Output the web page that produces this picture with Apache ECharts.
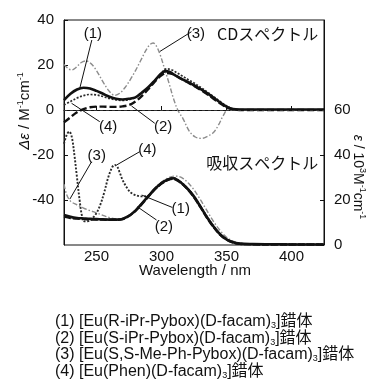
<!DOCTYPE html>
<html>
<head>
<meta charset="utf-8">
<script src="https://cdn.jsdelivr.net/npm/echarts@6/dist/echarts.min.js"></script>
<style>
  html, body { margin: 0; padding: 0; background: #fff; }
  #c { width: 366px; height: 389px; }
</style>
</head>
<body>
<div id="c"></div>
<script>
// ---- CD spectra (left axis, Δε / M-1cm-1) ----
const cdWl1 = [225,230,235,240,245,250,255,260,265,270,275,280,285,290,295,300,303,306,310,314,320,325,330,335,340,345,350,355,360,380,400,425];
const cd1   = [4.4,7.2,9.1,9.9,9.6,8.5,7.2,5.9,5.0,4.7,5.0,5.6,7.8,10.2,13.2,16.3,17.3,17.0,15.6,14.2,12.6,11.0,9.3,7.5,5.5,3.4,1.5,0.4,0.2,0.2,0.2,0.2];

const cdWl2 = [225,230,235,240,245,250,255,260,265,270,275,280,285,290,295,300,304,308,312,316,320,325,330,335,340,345,350,355,360,425];
const cd2   = [-5.5,-3.2,-1.0,0.4,1.2,1.5,1.5,1.4,1.4,1.6,2.2,3.8,6.3,9.4,12.7,15.4,16.4,16.1,15.0,13.6,12.3,10.7,9.0,7.1,5.0,3.0,1.2,0.3,0.0,0.0];

const cdWl3 = [225,228,231,234,238,242,246,250,255,260,264,268,272,276,280,284,288,291,293.5,296,299,302,306,309,312.5,316.5,321.5,326,331,335,340,344,347.5,351,360,425];
const cd3   = [20.3,18.5,17.8,18.8,21.0,21.8,20.5,17.5,12.5,8.2,6.5,7.5,10.0,13.5,17.5,22.0,26.5,29.0,29.8,28.5,24.5,19.0,11.5,5.5,0.0,-3.8,-9.5,-12.0,-12.6,-11.8,-10.0,-6.5,-2.5,0.0,0.0,0.0];

const cdWl4 = [225,230,235,240,245,250,255,260,265,270,275,280,285,290,295,300,304,308,312,316,320,325,330,335,340,345,350,355,360,425];
const cd4   = [2.2,3.8,5.3,6.4,6.9,6.7,6.0,5.1,4.5,4.3,4.6,5.6,7.4,10.0,13.2,16.4,18.3,17.8,16.5,15.1,13.7,12.0,10.1,8.1,6.0,3.8,1.8,0.5,0.1,0.1];

// ---- Absorption spectra (right axis, ε / 10^3 M-1cm-1) ----
const abWl1 = [225,230,235,240,245,250,255,260,265,270,275,280,285,290,295,300,305,309,314,320,325,330,335,340,345,350,355,360,370,390,410,425];
const ab1   = [13.3,12.5,12.0,11.8,11.6,11.5,11.4,11.3,11.3,11.6,13.0,15.3,18.5,21.8,25.0,27.5,29.1,29.7,28.2,25.0,21.5,17.0,12.3,8.2,4.8,2.5,1.2,0.6,0.4,0.3,0.2,0.2];

const abWl2 = [225,230,235,240,245,250,255,260,265,270,275,280,285,290,295,300,305,309,314,320,325,330,335,340,345,350,355,360,370,390,410,425];
const ab2   = [12.6,12.0,11.7,11.5,11.4,11.3,11.3,11.2,11.2,11.5,12.9,15.2,18.3,21.6,24.8,27.3,28.9,29.4,28.0,24.9,21.3,16.8,12.1,8.0,4.6,2.4,1.1,0.5,0.3,0.2,0.2,0.2];

const abWl3 = [225,227,230,235,240,245,250,255,260,265,270,275,280,285,290,295,300,305,310,313,317,321,325,329,333,337,341,345,349,353,357,362,370,400,425];
const ab3   = [27.0,22.5,19.5,17.8,16.4,15.3,14.3,13.2,12.2,11.6,11.9,13.3,15.6,18.7,22.0,25.3,28.0,29.8,30.6,30.5,29.4,27.3,24.5,21.0,17.2,13.3,9.6,6.5,4.0,2.3,1.2,0.6,0.4,0.3,0.3];

const abWl4 = [225,227,229,231,233,235,237,239,241,244,247,250,253,256,259,262,264,266,268,270,273,276,280,285,290,295,300,305,309,314,320,325,330,335,340,345,350,355,360,370,390,410,425];
const ab4   = [45.0,48.8,50.4,48.0,40.0,30.0,20.0,12.5,10.5,10.6,12.0,14.2,18.0,23.5,30.0,34.5,35.6,34.8,32.0,29.0,25.8,23.5,22.2,21.6,22.0,25.0,27.5,29.2,29.8,28.4,25.2,21.7,17.2,12.5,8.4,5.0,2.6,1.3,0.7,0.4,0.3,0.3,0.3];

// ---- axis ticks ----
const xTicks = [250, 300, 350, 400];
const cdTicks = [-40, -20, 0, 20, 40];
const absTicks = [0, 20, 40, 60];

// ---- annotations: text, text anchor, leader line start/end (nm, Δε) ----
const noteText     = ['(1)', '(3)', '(4)', '(2)', '(4)', '(3)', '(1)', '(2)'];
const noteTextAt   = [[247.2,33.8],[326.4,33.8],[258.9,-7.4],[301.2,-7.4],[289.1,-17.8],[250.2,-20.4],[314.8,-44.0],[301.8,-51.9]];
const noteLineFrom = [[246.4,31.1],[323.1,34.8],[252.5,-5.2],[294.8,-5.9],[283.3,-18.5],[246.2,-23.0],[308.3,-43.3],[296.2,-48.9]];
const noteLineTo   = [[237.2,9.8],[298.7,26.0],[230.8,3.0],[276.9,1.8],[265.6,-24.4],[229.5,-39.6],[284.8,-37.8],[281.4,-43.0]];

const panelTitles  = ['CDスペクトル', '吸収スペクトル'];
const panelTitleAt = [[420.5, 33.8], [420.5, -23.6]];

const legendLines = [
  '(1) [Eu(R-iPr-Pybox)(D-facam){s|3}]錯体',
  '(2) [Eu(S-iPr-Pybox)(D-facam){s|3}]錯体',
  '(3) [Eu(S,S-Me-Ph-Pybox)(D-facam){s|3}]錯体',
  '(4) [Eu(Phen)(D-facam){s|3}]錯体'
];

const pairs = (xs, ys) => xs.map((x, i) => [x, ys[i]]);

const FONT = '"Liberation Sans", Arial, "Noto Sans CJK JP", sans-serif';
const INK = '#111';
const GREY = '#8c8c8c';

const chart = echarts.init(document.getElementById('c'), null, { renderer: 'canvas' });

function line(name, data, yIdx, color, width, type, z) {
  return {
    name, type: 'line', data, yAxisIndex: yIdx, smooth: 0.35,
    showSymbol: false, symbol: 'none', silent: true, z: z || 2,
    lineStyle: { color, width, type, cap: 'butt', join: 'round' }
  };
}

chart.setOption({
  animation: false,
  backgroundColor: '#fff',
  grid: { left: 64, right: 42, top: 20, bottom: 144, show: true, borderColor: INK, borderWidth: 1, backgroundColor: 'transparent' },
  xAxis: {
    type: 'value', min: 225, max: 425,
    axisLine: { show: true, lineStyle: { color: INK, width: 1 } },
    axisTick: { show: true, inside: true, length: 4, lineStyle: { color: INK }, customValues: xTicks },
    axisLabel: { customValues: xTicks, color: INK, fontSize: 15, fontFamily: FONT, margin: 4 },
    splitLine: { show: false }
  },
  yAxis: [
    {
      type: 'value', min: -60, max: 40, position: 'left',
      axisLine: { show: true, lineStyle: { color: INK, width: 1 } },
      axisTick: { show: true, inside: true, length: 4, lineStyle: { color: INK }, customValues: cdTicks },
      axisLabel: { customValues: cdTicks, color: INK, fontSize: 15, fontFamily: FONT, margin: 10 },
      splitLine: { show: false }
    },
    {
      type: 'value', min: 0, max: 100, position: 'right',
      axisLine: { show: true, lineStyle: { color: INK, width: 1 } },
      axisTick: { show: true, inside: true, length: 4, lineStyle: { color: INK }, customValues: absTicks },
      axisLabel: { customValues: absTicks, color: INK, fontSize: 15, fontFamily: FONT, margin: 10 },
      splitLine: { show: false }
    }
  ],
  series: [
    Object.assign(line('cd3', pairs(cdWl3, cd3), 0, GREY, 1.4, [5, 2, 1.5, 2], 1), {
      markLine: {
        silent: true, symbol: 'none', label: { show: false }, animation: false,
        lineStyle: { color: '#333', width: 1, type: [3, 3] },
        data: [{ yAxis: 0 }]
      }
    }),
    line('ab3', pairs(abWl3, ab3), 1, GREY, 1.4, [5, 2, 1.5, 2], 1),
    line('cd2', pairs(cdWl2, cd2), 0, INK, 2.4, [7, 3], 2),
    line('cd4', pairs(cdWl4, cd4), 0, '#2a2a2a', 1.7, [2, 1.6], 2),
    line('cd1', pairs(cdWl1, cd1), 0, INK, 2.6, 'solid', 3),
    line('ab4', pairs(abWl4, ab4), 1, '#2a2a2a', 1.9, [2, 1.6], 2),
    line('ab2', pairs(abWl2, ab2), 1, INK, 2.4, [7, 2], 2),
    line('ab1', pairs(abWl1, ab1), 1, INK, 2.6, 'solid', 3)
  ]
});

// Annotations, axis names and the compound list, placed from data coordinates
const toPx = (p) => chart.convertToPixel({ xAxisIndex: 0, yAxisIndex: 0 }, p);
const g = [];

noteText.forEach((t, i) => {
  const a = toPx(noteTextAt[i]);
  const p1 = toPx(noteLineFrom[i]);
  const p2 = toPx(noteLineTo[i]);
  g.push({ type: 'line', silent: true, z: 10, shape: { x1: p1[0], y1: p1[1], x2: p2[0], y2: p2[1] }, style: { stroke: INK, lineWidth: 1 } });
  g.push({ type: 'text', silent: true, z: 11, x: a[0], y: a[1], style: { text: t, fill: INK, font: '15px ' + FONT, align: 'center', verticalAlign: 'middle' } });
});

panelTitles.forEach((t, i) => {
  const a = toPx(panelTitleAt[i]);
  g.push({ type: 'text', silent: true, z: 11, x: a[0], y: a[1], style: { text: t, fill: INK, font: '16px "Noto Sans CJK JP", ' + FONT, align: 'right', verticalAlign: 'middle' } });
});

const supStyle = { fontSize: 9, fontFamily: FONT, fill: INK, verticalAlign: 'top', lineHeight: 10 };
g.push({
  type: 'text', silent: true, z: 11, x: 25, y: 111, rotation: Math.PI / 2,
  style: {
    text: '{i|Δε} / M{s|-1}cm{s|-1}', align: 'center', verticalAlign: 'middle',
    fill: INK, font: '15px ' + FONT,
    rich: { i: { fontStyle: 'italic', fontSize: 15, fontFamily: FONT, fill: INK, lineHeight: 18 }, s: supStyle }
  }
});
g.push({
  type: 'text', silent: true, z: 11, x: 358, y: 177, rotation: -Math.PI / 2,
  style: {
    text: '{i|ε} / 10{s|3}M{s|-1}cm{s|-1}', align: 'center', verticalAlign: 'middle',
    fill: INK, font: '14px ' + FONT,
    rich: { i: { fontStyle: 'italic', fontSize: 14, fontFamily: FONT, fill: INK, lineHeight: 17 }, s: supStyle }
  }
});

// x axis name
g.push({ type: 'text', silent: true, z: 11, x: 195, y: 271, style: { text: 'Wavelength / nm', fill: INK, font: '15px ' + FONT, align: 'center', verticalAlign: 'middle' } });

const legendY = [322, 339, 355, 372];
legendLines.forEach((t, i) => {
  g.push({
    type: 'text', silent: true, z: 11, x: 55, y: legendY[i],
    style: {
      text: t, fill: INK, font: '16px ' + FONT, align: 'left', verticalAlign: 'middle',
      rich: { s: { fontSize: 9, fontFamily: FONT, fill: INK, verticalAlign: 'bottom', lineHeight: 13 } }
    }
  });
});

chart.setOption({ graphic: g });
</script>
</body>
</html>
